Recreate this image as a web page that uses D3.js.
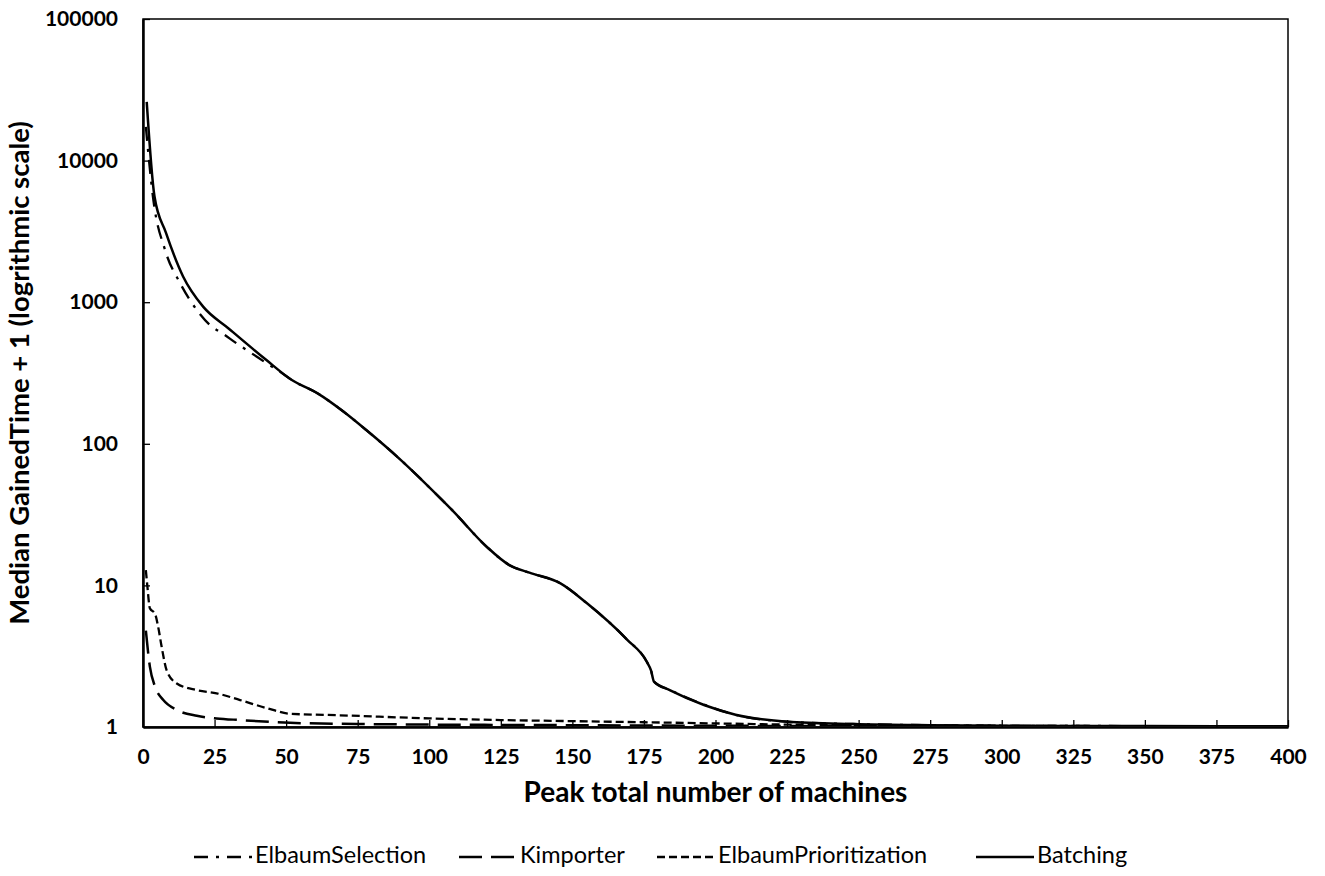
<!DOCTYPE html>
<html>
<head>
<meta charset="utf-8">
<script src="https://cdn.jsdelivr.net/npm/d3@7"></script>
<style>
  body { margin: 0; background: #fff; }
  text { font-family: Lato, "Open Sans", sans-serif; fill: #000; }
</style>
</head>
<body>
<svg id="chart" width="1325" height="876"></svg>
<script>
// ---- Data ----
const xTicks = [0, 25, 50, 75, 100, 125, 150, 175, 200, 225, 250, 275, 300, 325, 350, 375, 400];
const yTicks = [1, 10, 100, 1000, 10000, 100000];

const seriesNames = ["ElbaumSelection", "Kimporter", "ElbaumPrioritization", "Batching"];

const batchingX = [1.3, 4, 8, 14, 21, 30, 43, 52, 61, 70, 78, 90, 104, 108, 120, 128, 135, 146, 155, 169, 176, 177.5, 178.5, 184, 196, 207, 225, 248, 275, 300, 350, 400];
const batchingY = [26000, 5600, 3100, 1520, 930, 650, 392, 282, 227, 169, 125, 77, 41, 34, 18.8, 13.9, 12.3, 10.3, 7.5, 4.16, 2.89, 2.5, 2.09, 1.82, 1.43, 1.22, 1.09, 1.05, 1.03, 1.02, 1.015, 1.01];

const selectionX = [1, 3.6, 7.7, 13, 19.3, 23.4, 28.1, 32.7, 38, 43.2, 47.9, 52, 61, 70, 78, 90, 104, 108, 120, 128, 135, 146, 155, 169, 176, 177.5, 178.5, 184, 196, 207, 225, 248, 275, 300, 350, 400];
const selectionY = [17300, 5300, 2340, 1360, 855, 690, 596, 512, 435, 370, 322, 282, 227, 169, 125, 77, 41, 34, 18.8, 13.9, 12.3, 10.3, 7.5, 4.16, 2.89, 2.5, 2.09, 1.83, 1.44, 1.22, 1.09, 1.05, 1.03, 1.02, 1.015, 1.01];

const kimporterX = [1, 2.4, 4.2, 7.1, 11.8, 18.8, 25.7, 33.9, 51.4, 75, 100, 150, 200, 250, 300, 400];
const kimporterY = [4.8, 2.67, 1.93, 1.55, 1.32, 1.2, 1.15, 1.12, 1.07, 1.05, 1.04, 1.03, 1.02, 1.015, 1.01, 1.01];

const prioritizationX = [1, 1.5, 2.4, 4.2, 5.3, 6.5, 8.3, 11.8, 18.8, 25.7, 33.9, 43.2, 51.4, 68.8, 100, 125, 150, 175, 200, 225, 250, 300, 400];
const prioritizationY = [12.8, 10, 6.9, 6.3, 5.1, 3.7, 2.5, 2.03, 1.82, 1.73, 1.55, 1.36, 1.24, 1.21, 1.15, 1.12, 1.1, 1.08, 1.06, 1.04, 1.03, 1.02, 1.01];

// ---- Layout ----
const svg = d3.select("#chart");
const L = 143, R = 1288, T = 19, B = 727;

const x = d3.scaleLinear().domain([0, 400]).range([L, R]);
const y = d3.scaleLog().domain([1, 100000]).range([B, T]);

const styles = {
  ElbaumSelection: { dash: "14,8,3,8", width: 2.3 },
  Kimporter: { dash: "23,9", width: 2.5 },
  ElbaumPrioritization: { dash: "8,4", width: 2.3 },
  Batching: { dash: null, width: 2.5 }
};

const series = [
  { name: "ElbaumSelection", xs: selectionX, ys: selectionY },
  { name: "Kimporter", xs: kimporterX, ys: kimporterY },
  { name: "ElbaumPrioritization", xs: prioritizationX, ys: prioritizationY },
  { name: "Batching", xs: batchingX, ys: batchingY }
];

svg.append("defs").append("clipPath").attr("id", "clip")
  .append("rect").attr("x", L).attr("y", T - 2).attr("width", R - L).attr("height", B - T + 1);

// Plot border
svg.append("rect").attr("x", L).attr("y", T).attr("width", R - L).attr("height", B - T)
  .attr("fill", "none").attr("stroke", "#000").attr("stroke-width", 1.5);

// Axes
const xAxis = d3.axisBottom(x).tickValues(xTicks).tickSizeInner(-7).tickSizeOuter(0).tickPadding(22).tickFormat(d3.format("d"));
const gx = svg.append("g").attr("transform", `translate(0,${B})`).call(xAxis);
const yAxis = d3.axisLeft(y).tickValues(yTicks).tickSizeInner(-7).tickSizeOuter(0).tickPadding(25).tickFormat(d3.format("d"));
const gy = svg.append("g").attr("transform", `translate(${L},0)`).call(yAxis);

[gx, gy].forEach(g => {
  g.select(".domain").attr("stroke", "#000").attr("stroke-width", 2.5);
  g.selectAll(".tick line").attr("stroke", "#000").attr("stroke-width", 1.3);
  g.selectAll(".tick text").attr("font-family", "Lato, sans-serif").attr("font-weight", "bold")
    .attr("font-size", 21).attr("fill", "#000");
});
gx.selectAll(".tick text").attr("dy", "0.71em");

// Axis titles
svg.append("text").attr("x", (L + R) / 2).attr("y", 795).attr("text-anchor", "middle")
  .attr("dominant-baseline", "middle").attr("font-weight", "bold").attr("font-size", 28)
  .text("Peak total number of machines");
svg.append("text").attr("transform", `translate(22,${(T + B) / 2}) rotate(-90)`)
  .attr("text-anchor", "middle").attr("dominant-baseline", "middle")
  .attr("font-weight", "bold").attr("font-size", 27.5)
  .text("Median GainedTime + 1 (logrithmic scale)");

// Lines
const line = d3.line().x(d => x(d[0])).y(d => y(d[1])).curve(d3.curveMonotoneX);
const plot = svg.append("g").attr("clip-path", "url(#clip)");
series.forEach(s => {
  const pts = s.xs.map((v, i) => [v, s.ys[i]]);
  const st = styles[s.name];
  plot.append("path").datum(pts).attr("d", line)
    .attr("fill", "none").attr("stroke", "#000").attr("stroke-width", st.width)
    .attr("stroke-dasharray", st.dash).attr("stroke-linejoin", "round");
});

// Legend
const legendSymX = [194, 459, 657, 976];
const legendY = 857;
const symLen = 58;
seriesNames.forEach((name, i) => {
  const st = styles[name];
  const g = svg.append("g");
  g.append("line").attr("x1", legendSymX[i]).attr("x2", legendSymX[i] + symLen)
    .attr("y1", legendY).attr("y2", legendY)
    .attr("stroke", "#000").attr("stroke-width", st.width).attr("stroke-dasharray", st.dash);
  g.append("text").attr("x", legendSymX[i] + symLen + 3).attr("y", legendY).attr("dominant-baseline", "middle")
    .attr("font-size", 23.5).text(name);
});
</script>
</body>
</html>
